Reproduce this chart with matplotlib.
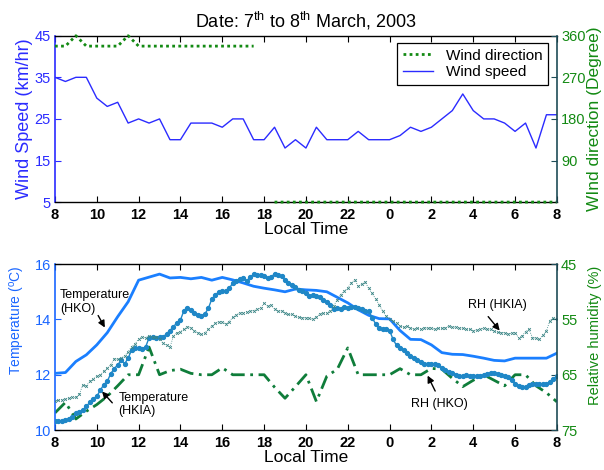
import numpy as np
import matplotlib
matplotlib.use("Agg")
import matplotlib.pyplot as plt

plt.rcParams['font.family'] = ['Liberation Sans', 'DejaVu Sans']
plt.rcParams['mathtext.default'] = 'regular'

# ---- data (hours since 08:00 on 7 March) ----
hour_ticks = list(range(0, 25, 2))
hour_labels = ['8', '10', '12', '14', '16', '18', '20', '22', '0', '2', '4', '6', '8']

# half-hourly wind data
wind_speed = [35, 34, 35, 35, 30, 28, 29, 24, 25, 24, 25, 20, 20, 24, 24, 24,
              23, 25, 25, 20, 20, 23, 18, 20, 18, 23, 20, 20, 20, 22, 20, 20,
              20, 21, 23, 22, 23, 25, 27, 31, 27, 25, 25, 24, 22, 24, 18, 26, 26]
wind_dir = [337.5, 337.5, 360, 337.5, 337.5, 337.5, 337.5, 360, 337.5, 337.5,
            337.5, 337.5, 337.5, 337.5, 337.5, 337.5, 337.5, 337.5, 337.5, 337.5,
            np.nan, 0, 0, 0, 0, 0, 0, 0, 0, 0, 0, 0, 0, 0, 0, 0, 0, 0, 0, 0,
            0, 0, 0, 0, 0, 0, 0, 0, 0]

# half-hourly temperatures
temp_hko = [12.05, 12.08, 12.48, 12.72, 13.08, 13.52, 14.1, 14.64, 15.42, 15.53,
            15.64, 15.5, 15.52, 15.47, 15.52, 15.42, 15.52, 15.43, 15.32, 15.2,
            15.13, 15.07, 15.0, 15.1, 15.07, 15.05, 15.0, 14.8, 14.6, 14.35,
            14.15, 14.03, 14.02, 13.6, 13.28, 13.27, 13.08, 12.8, 12.74, 12.73,
            12.67, 12.6, 12.52, 12.5, 12.6, 12.6, 12.6, 12.6, 12.78]
temp_hkia = [10.62, 11.0, 10.4, 10.68, 10.92, 11.22, 11.6, 12.0, 12.0, 13.0,
             12.0, 12.15, 12.2, 12.05, 12.0, 12.0, 12.25, 12.0, 12.0, 12.0,
             12.0, 11.55, 11.15, 11.57, 12.0, 11.03, 11.95, 12.2, 12.97, 12.0,
             12.0, 12.0, 12.0, 12.22, 12.0, 12.0, 12.23, 12.2, 11.87, 11.57,
             11.8, 12.0, 11.8, 11.6, 12.0, 12.0, 11.6, 11.35, 11.02]

# 10-minute relative humidity
rh_hko = [73.4, 73.4, 73.3, 73.2, 73.0, 72.7,
          72.0, 71.7, 71.4, 70.7, 70.0, 69.3,
          68.9, 67.8, 66.8, 66.2, 64.8, 63.9,
          63.2, 62.4, 63.0, 62.0, 60.5, 60.1,
          60.2, 60.3, 60.0, 58.3, 58.2, 58.4,
          58.1, 58.2, 57.6, 57.0, 56.3, 55.6,
          55.1, 53.4, 52.9, 53.3, 53.8, 54.2,
          54.4, 54.0, 53.0, 51.3, 50.6, 50.0,
          49.9, 49.8, 49.4, 48.4, 48.0, 47.7,
          47.5, 48.0, 47.4, 46.8, 46.9, 46.9,
          47.2, 47.5, 47.4, 46.7, 46.9, 47.2,
          47.9, 48.5, 48.8, 49.2, 49.6, 49.9,
          50.3, 50.7, 50.6, 50.7, 51.0, 51.5,
          51.8, 52.4, 53.1, 53.0, 53.1, 52.8,
          52.9, 52.8, 52.8, 52.9, 53.2, 53.4,
          53.5, 54.7, 55.8, 56.6, 56.8, 56.8,
          57.0, 58.6, 59.7, 60.1, 60.5, 61.0,
          61.6, 62.0, 62.4, 62.7, 63.1, 63.1,
          63.0, 63.0, 63.2, 63.8, 64.2, 64.5,
          64.7, 65.0, 65.2, 65.2, 65.0, 65.3,
          65.2, 65.2, 65.3, 65.0, 64.8, 64.6,
          64.6, 64.8, 65.0, 65.2, 65.4, 65.9,
          66.6, 67.0, 67.3, 67.2, 66.9, 66.7,
          66.7, 66.7, 66.7, 66.6, 66.4, 65.7,
          65.3]
rh_hkia = [69.8, 69.6, 69.5, 69.4, 69.2, 69.1,
           69.1, 68.5, 66.8, 67.0, 66.2, 65.7,
           65.3, 65.0, 64.4, 63.8, 63.2, 62.1,
           62.2, 62.0, 61.6, 60.8, 59.9, 59.4,
           58.5, 58.2, 58.3, 58.0, 58.2, 58.2,
           58.5, 59.3, 59.6, 60.0, 58.0, 57.4,
           57.2, 56.8, 56.3, 56.5, 57.1, 57.4,
           57.7, 57.4, 56.8, 56.2, 55.7, 55.4,
           55.5, 55.8, 55.4, 54.6, 54.2, 53.8,
           53.8, 53.6, 53.5, 53.4, 53.2, 52.9,
           52.1, 52.6, 52.4, 53.1, 53.5, 53.4,
           53.8, 54.1, 54.1, 54.4, 54.6, 54.7,
           54.7, 54.8, 55.0, 54.6, 54.0, 53.8,
           53.8, 53.5, 52.5, 51.4, 50.5, 49.9,
           49.3, 48.4, 47.8, 49.0, 48.6, 48.2,
           49.4, 50.3, 51.3, 52.3, 53.5, 54.4,
           55.0, 55.3, 55.6, 56.2, 56.4, 56.2,
           56.5, 56.8, 56.6, 56.7, 56.5, 56.6,
           56.6, 56.8, 56.5, 56.6, 56.5, 56.2,
           56.4, 56.4, 56.5, 56.6, 56.7, 56.8,
           57.0, 56.9, 56.8, 56.6, 56.7, 56.8,
           57.1, 57.3, 57.4, 57.4, 57.6, 57.5,
           57.4, 58.3, 58.0, 57.2, 56.8, 58.3,
           58.4, 58.6, 57.8, 57.1, 55.2, 54.8,
           55.0]

t_half = np.arange(len(wind_speed)) * 0.5
t_10min = np.arange(len(rh_hko)) / 6.0

BLUE = '#2b2bff'
GREEN = '#138a13'
SPINE_R = '#1f4d58'
fs_tick = 10.5

fig = plt.figure(figsize=(6.04, 4.70), dpi=100)

# ---------------- top panel: wind ----------------
ax1 = fig.add_axes([0.091, 0.570, 0.831, 0.354])
ax1b = ax1.twinx()
ln_ws, = ax1.plot(t_half, wind_speed, color=BLUE, lw=1.0, label='Wind speed')
ln_wd, = ax1b.plot(t_half, wind_dir, color=GREEN, lw=2.0, ls=(0, (1, 1.2)),
                   label='Wind direction', clip_on=False)
ax1.set_xlim(0, 24)
ax1.set_ylim(5, 45)
ax1.set_yticks([5, 15, 25, 35, 45])
ax1b.set_ylim(0, 360)
ax1b.set_yticks([90, 180, 270, 360])
ax1.set_xticks(hour_ticks)
ax1.set_xticklabels(hour_labels, fontweight='bold')
ax1.set_ylabel('Wind Speed (km/hr)', color=BLUE, fontsize=13, labelpad=1)
ax1b.set_ylabel('WInd direction (Degree)', color=GREEN, fontsize=12.5, labelpad=1)
ax1.set_xlabel('Local Time', fontsize=12.5, labelpad=0)
ax1.set_title('Date: 7$^{th}$ to 8$^{th}$ March, 2003', fontsize=13, pad=6)
leg = ax1b.legend([ln_wd, ln_ws], ['Wind direction', 'Wind speed'],
                  loc='upper right', bbox_to_anchor=(0.983, 0.958),
                  fancybox=False, edgecolor='black', framealpha=1,
                  fontsize=11, handlelength=2.0, borderaxespad=0,
                  labelspacing=0.15)
leg.get_frame().set_linewidth(0.9)

# ---------------- bottom panel: temperature and RH ----------------
ax2 = fig.add_axes([0.091, 0.085, 0.831, 0.353])
ax2b = ax2.twinx()
ax2.plot(t_half, temp_hko, color='#1a7fff', lw=2.0, zorder=3)
ax2.plot(t_half, temp_hkia, color='#0f7d3a', lw=2.0, ls=(0, (5, 2, 1, 2)), zorder=2)
ax2b.plot(t_10min, rh_hko, color='#1f87c7', lw=1.0, marker='o', ms=2.8,
          mec='#1f87c7', mfc='#1f87c7')
ax2b.plot(t_10min, rh_hkia, color='#3a8585', lw=0.6, ls=':', marker='x',
          ms=2.0, mew=0.6)
ax2.set_xlim(0, 24)
ax2.set_ylim(10, 16)
ax2.set_yticks([10, 12, 14, 16])
ax2b.set_ylim(75, 45)
ax2b.set_yticks([45, 55, 65, 75])
ax2.set_xticks(hour_ticks)
ax2.set_xticklabels(hour_labels, fontweight='bold')
ax2.set_ylabel('Temperature ($^{o}$C)', color='#1a66ff', fontsize=10)
ax2.yaxis.set_label_coords(-0.056, 0.66)
ax2b.set_ylabel('Relative humidity (%)', color=GREEN, fontsize=10.5)
ax2b.yaxis.set_label_coords(1.062, 0.57)
ax2.set_xlabel('Local Time', fontsize=12.5, labelpad=0)

arrow = dict(arrowstyle='-|>', color='black', lw=1.0, mutation_scale=10)
fs_ann = 9
ax2.text(0.24, 14.63, 'Temperature\n(HKO)', fontsize=fs_ann, va='center',
         ha='left', linespacing=1.15)
ax2.annotate('', xy=(2.45, 13.62), xytext=(2.0, 14.23), arrowprops=arrow)
ax2.text(3.04, 10.92, 'Temperature\n(HKIA)', fontsize=fs_ann, va='center',
         ha='left', linespacing=1.15)
ax2.annotate('', xy=(2.16, 11.47), xytext=(2.83, 10.91), arrowprops=arrow)
ax2b.text(21.15, 52.3, 'RH (HKIA)', fontsize=fs_ann, va='center', ha='center')
ax2b.annotate('', xy=(21.35, 57.4), xytext=(20.63, 54.1), arrowprops=arrow)
ax2b.text(18.36, 70.2, 'RH (HKO)', fontsize=fs_ann, va='center', ha='center')
ax2b.annotate('', xy=(17.76, 64.7), xytext=(18.24, 68.4), arrowprops=arrow)

# ---------------- MATLAB-like axes styling ----------------
for left, right, lcol in [(ax1, ax1b, BLUE), (ax2, ax2b, '#1a66ff')]:
    left.tick_params(axis='x', direction='in', top=True, length=4,
                     labelsize=fs_tick, pad=4)
    left.tick_params(axis='y', direction='in', length=4, colors=lcol,
                     labelsize=fs_tick, pad=3)
    right.tick_params(axis='y', direction='in', length=4, colors=GREEN,
                      labelsize=fs_tick, pad=3)
    right.tick_params(axis='y', color=SPINE_R)
    left.spines['left'].set_color(lcol)
    right.spines['left'].set_visible(False)
    left.spines['right'].set_visible(False)
    right.spines['right'].set_color(SPINE_R)
    right.spines['right'].set_linewidth(1.2)
    left.spines['left'].set_linewidth(1.2)
    for s in ('top', 'bottom'):
        right.spines[s].set_visible(False)
        left.spines[s].set_linewidth(1.0)

fig.savefig('out.png', dpi=100)
